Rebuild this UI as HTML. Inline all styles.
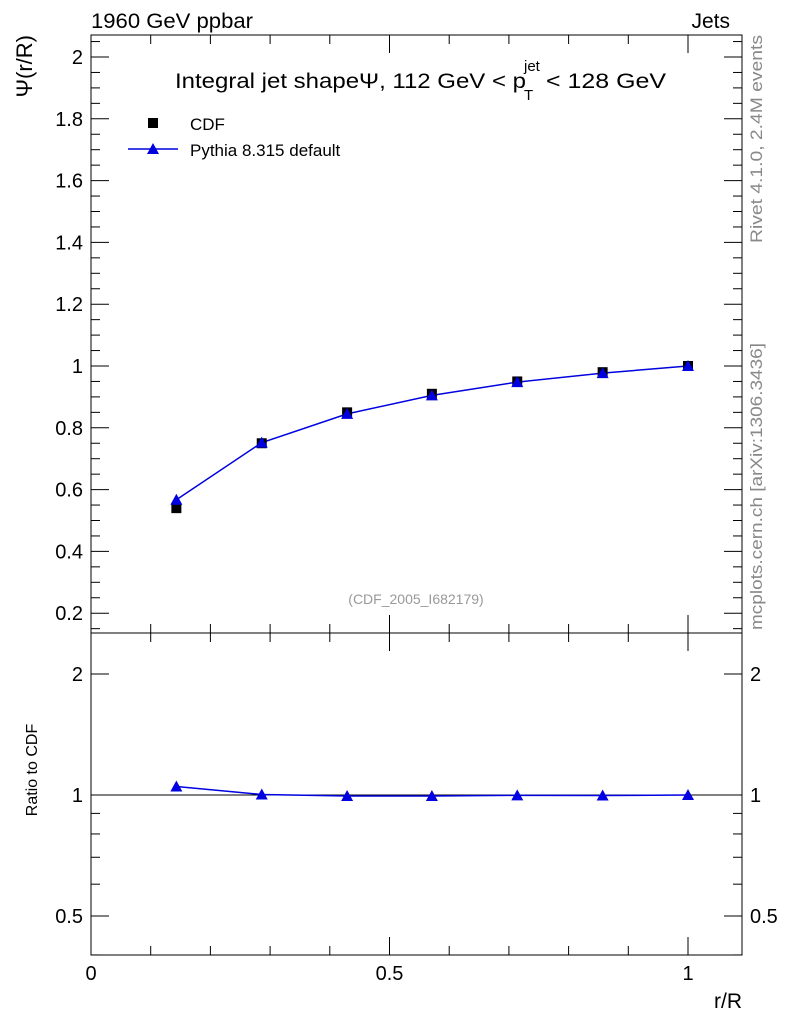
<!DOCTYPE html>
<html><head><meta charset="utf-8"><style>
body{margin:0;background:#fff;}
svg{font-family:"Liberation Sans",sans-serif;}
</style></head><body>
<svg id="c" width="786" height="1024" xmlns="http://www.w3.org/2000/svg"></svg>
<script>
const xs=[0.143,0.286,0.429,0.571,0.714,0.857,1.0];
const cdf=[0.54,0.75,0.85,0.91,0.95,0.98,1.0];
const pythia=[0.567,0.752,0.845,0.905,0.948,0.977,1.0];
const yTicks=[0.2,0.4,0.6,0.8,1,1.2,1.4,1.6,1.8,2];
const yTickLabels=["0.2","0.4","0.6","0.8","1","1.2","1.4","1.6","1.8","2"];
const xTicks=[0,0.5,1];
const xTickLabels=["0","0.5","1"];
const rTicks=[0.5,1,2];
const rTickLabels=["0.5","1","2"];

const L=91,R=742,T=35,M=633,B=955;
const X=v=>L+v*597;
const Y=v=>366-(v-1)*309;
const RY=v=>795-Math.log2(v)*121;
const svg=document.getElementById('c');
const NS='http://www.w3.org/2000/svg';
function el(t,a,txt){const e=document.createElementNS(NS,t);for(const k in a)e.setAttribute(k,a[k]);if(txt!==undefined)e.textContent=txt;svg.appendChild(e);return e;}

let f=el('rect',{x:L,y:T,width:R-L,height:M-T,fill:'none',stroke:'#000'});

f=el('rect',{x:L,y:M,width:R-L,height:B-M,fill:'none',stroke:'#000'});


for(let v=0.15;v<=2.07;v+=0.05){const y=Y(v);const maj=Math.abs(v*5-Math.round(v*5))<1e-6;const l=maj?18:9;
 el('line',{x1:L,y1:y,x2:L+l,y2:y,stroke:'#000'});el('line',{x1:R,y1:y,x2:R-l,y2:y,stroke:'#000'});}
yTicks.forEach((v,i)=>{const t=el('text',{x:L-8,y:Y(v)+7,'text-anchor':'end','font-size':20},yTickLabels[i]);
 });
for(let v=0;v<=1.09;v+=0.1){const maj=Math.abs(v*2-Math.round(v*2))<1e-6;const l=maj?18:9;
 [[M,-1],[B,-1],[T,1],[M,1]].forEach(([y0,d])=>el('line',{x1:X(v),y1:y0,x2:X(v),y2:y0+d*l,stroke:'#000'}));}
xTickLabels.forEach((s,i)=>{const t=el('text',{x:X(xTicks[i]),y:980,'text-anchor':'middle','font-size':20},s);
 });
[0.4,0.5,0.6,0.7,0.8,0.9,1,2].forEach(v=>{const maj=rTicks.includes(v);const l=maj?18:9;const y=RY(v);
 el('line',{x1:L,y1:y,x2:L+l,y2:y,stroke:'#000'});el('line',{x1:R,y1:y,x2:R-l,y2:y,stroke:'#000'});});
rTicks.forEach((v,i)=>{let t=el('text',{x:L-8,y:RY(v)+7,'text-anchor':'end','font-size':20},rTickLabels[i]);
 
 t=el('text',{x:R+8,y:RY(v)+7,'text-anchor':'start','font-size':20},rTickLabels[i]);
 });
el('line',{x1:L,y1:RY(1),x2:R,y2:RY(1),stroke:'#000'});

let pl=el('polyline',{points:xs.map((x,i)=>X(x)+','+Y(pythia[i])).join(' '),fill:'none',stroke:'#0000e0','stroke-width':1.5});

xs.forEach((x,i)=>{const r=el('rect',{x:X(x)-5,y:Y(cdf[i])-5,width:10,height:10,fill:'#000'});
 });
const tri=(cx,cy)=>`${cx-6},${cy+5} ${cx+6},${cy+5} ${cx},${cy-6}`;
xs.forEach((x,i)=>{const p=el('polygon',{points:tri(X(x),Y(pythia[i])),fill:'#0000e0'});
 });
pl=el('polyline',{points:xs.map((x,i)=>X(x)+','+RY(pythia[i]/cdf[i])).join(' '),fill:'none',stroke:'#0000e0','stroke-width':1.5});

xs.forEach((x,i)=>{const p=el('polygon',{points:tri(X(x),RY(pythia[i]/cdf[i])),fill:'#0000e0'});
 });

function tx(n,a,s){const t=el('text',a,s);return t;}
tx('header-left',{x:91,y:28,'font-size':21,textLength:162,lengthAdjust:'spacingAndGlyphs'},'1960 GeV ppbar');
tx('header-right',{x:730,y:28,'font-size':21,'text-anchor':'end'},'Jets');
tx('title',{x:175,y:88,'font-size':21,textLength:351,lengthAdjust:'spacingAndGlyphs'},'Integral jet shape\u03A8, 112 GeV < p');
tx('title-sup',{x:524,y:71,'font-size':15},'jet');
tx('title-sub',{x:524,y:100,'font-size':15},'T');
tx('title-end',{x:546,y:88,'font-size':21,textLength:120,lengthAdjust:'spacingAndGlyphs'},'< 128 GeV');
el('rect',{x:148,y:118,width:10,height:10,fill:'#000'});
tx('legend-cdf',{x:190,y:130,'font-size':17},'CDF');
el('line',{x1:128,y1:149,x2:178,y2:149,stroke:'#0000e0','stroke-width':1.5});
el('polygon',{points:tri(153,149),fill:'#0000e0'});
tx('legend-pythia',{x:190,y:156,'font-size':17},'Pythia 8.315 default');
tx('analysis-id',{x:416,y:604,'font-size':14,fill:'#999','text-anchor':'middle'},'(CDF_2005_I682179)');
tx('y-axis-title',{x:0,y:0,'font-size':22,'text-anchor':'end',transform:'translate(32,35) rotate(-90)'},'\u03A8(r/R)');
tx('ratio-y-title',{x:0,y:0,'font-size':16,'text-anchor':'middle',transform:'translate(37,770) rotate(-90)'},'Ratio to CDF');
tx('x-axis-title',{x:742,y:1008,'font-size':21,'text-anchor':'end'},'r/R');
tx('rivet-label',{x:0,y:0,'font-size':17,fill:'#888','text-anchor':'end',textLength:208,lengthAdjust:'spacingAndGlyphs',transform:'translate(762,35) rotate(-90)'},'Rivet 4.1.0,  2.4M events');
tx('mcplots-label',{x:0,y:0,'font-size':17,fill:'#888','text-anchor':'end',textLength:287,lengthAdjust:'spacingAndGlyphs',transform:'translate(762,343) rotate(-90)'},'mcplots.cern.ch [arXiv:1306.3436]');
</script>
</body></html>
